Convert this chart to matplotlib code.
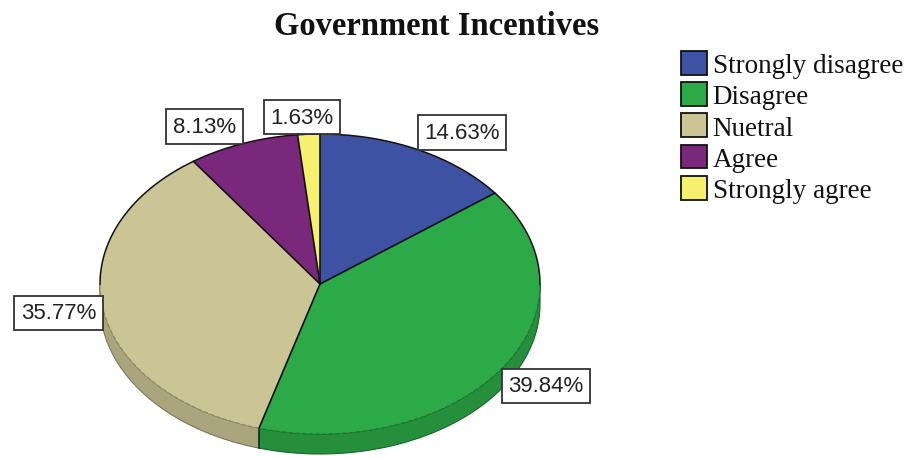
import numpy as np
import matplotlib
matplotlib.use("Agg")
import matplotlib.pyplot as plt
from matplotlib.patches import Polygon, Patch
from matplotlib.colors import to_rgb

categories = ["Strongly disagree", "Disagree", "Nuetral", "Agree", "Strongly agree"]
percents = [14.63, 39.84, 35.77, 8.13, 1.63]
colors = ["#3d52a3", "#2caa48", "#cbc595", "#7a287c", "#f5f06e"]

# pie geometry in pixel units (y grows downwards)
cx, cy = 320, 285
rx, ry = 220, 150
depth = 20


def ell(theta_deg):
    # angle measured clockwise from 12 o'clock
    t = np.radians(theta_deg)
    return cx + rx * np.sin(t), cy - ry * np.cos(t)


def shade(c, f):
    r, g, b = to_rgb(c)
    return (r * f, g * f, b * f)


fig = plt.figure(figsize=(9.14, 4.6), dpi=100)
ax = fig.add_axes([0, 0, 1, 1])
ax.set_xlim(0, 914)
ax.set_ylim(460, 0)
ax.axis("off")

fracs = np.array(percents) / sum(percents)
bounds = np.concatenate([[0], np.cumsum(fracs) * 360])

# side wall of the disc: only the front half (90..270 deg) is visible
for i, col in enumerate(colors):
    a, b = max(bounds[i], 90), min(bounds[i + 1], 270)
    if b <= a:
        continue
    th = np.linspace(a, b, 80)
    xs, ys = ell(th)
    pts = np.column_stack([np.r_[xs, xs[::-1]], np.r_[ys, ys[::-1] + depth]])
    ax.add_patch(Polygon(pts, closed=True, facecolor=shade(col, 0.84),
                         edgecolor=shade(col, 0.6), lw=0.8, zorder=1))
    if 90 < bounds[i + 1] < 270:
        x0, y0 = ell(bounds[i + 1])
        ax.plot([x0, x0], [y0, y0 + depth], color="#222222", lw=1.2, zorder=2)

# top face
for i, col in enumerate(colors):
    th = np.linspace(bounds[i], bounds[i + 1], 200)
    xs, ys = ell(th)
    pts = np.column_stack([np.r_[cx, xs], np.r_[cy, ys]])
    ax.add_patch(Polygon(pts, closed=True, facecolor=col, edgecolor="none",
                         zorder=3))
    # faint seam on the front rim, black rim at the back
    front = np.linspace(max(bounds[i], 90), min(bounds[i + 1], 270), 100)
    if front[-1] > front[0]:
        fx, fy = ell(front)
        ax.plot(fx, fy, color=shade(col, 0.7), lw=0.8, ls=(0, (4, 2)), zorder=4)

back = np.linspace(270, 450, 300)
bx, by = ell(back)
ax.plot(bx, by, color="#111111", lw=1.1, zorder=4)
for b in bounds[:-1]:
    x1, y1 = ell(b)
    ax.plot([cx, x1], [cy, y1], color="#111111", lw=1.2, zorder=4,
            solid_capstyle="round")

# percentage labels placed at the rim, anchored by quadrant
lab_fs = 16
pad = 0.3
pad_px = pad * lab_fs
for i, p in enumerate(percents):
    mid = (bounds[i] + bounds[i + 1]) / 2
    x, y = ell(mid)
    s, c = np.sin(np.radians(mid)), np.cos(np.radians(mid))
    ha = "left" if s > 0.2 else ("right" if s < -0.2 else "center")
    va = "bottom" if c > 0.3 else ("top" if c < -0.3 else "center")
    ox = {"left": pad_px, "right": -pad_px, "center": -5}[ha]
    oy = {"bottom": pad_px, "top": -pad_px, "center": -3}[va]
    ax.annotate("%.2f%%" % p, (x, y), xytext=(ox, oy),
                textcoords="offset points", ha=ha, va=va, fontsize=lab_fs,
                family="Liberation Sans", color="#222222", zorder=5,
                bbox=dict(boxstyle="square,pad=%.2f" % pad, facecolor="white",
                          edgecolor="#333333", lw=1.3))

fig.text(437 / 914, 1 - 35 / 460, "Government Incentives", ha="center",
         va="baseline", fontsize=23.5, fontweight="bold",
         family="Liberation Serif", color="#111111")

handles = [Patch(facecolor=c, edgecolor="#111111", lw=1.3) for c in colors]
leg = ax.legend(handles, categories, loc="upper left",
                bbox_to_anchor=(681 / 914, 1 - 52 / 460),
                bbox_transform=fig.transFigure, frameon=False,
                prop={"family": "Liberation Serif", "size": 19.5},
                handlelength=0.97, handleheight=0.97, handletextpad=0.2,
                labelspacing=0.15, borderpad=0, borderaxespad=0)
for t in leg.get_texts():
    t.set_color("#111111")

fig.savefig("out.png", dpi=100, facecolor="white")
